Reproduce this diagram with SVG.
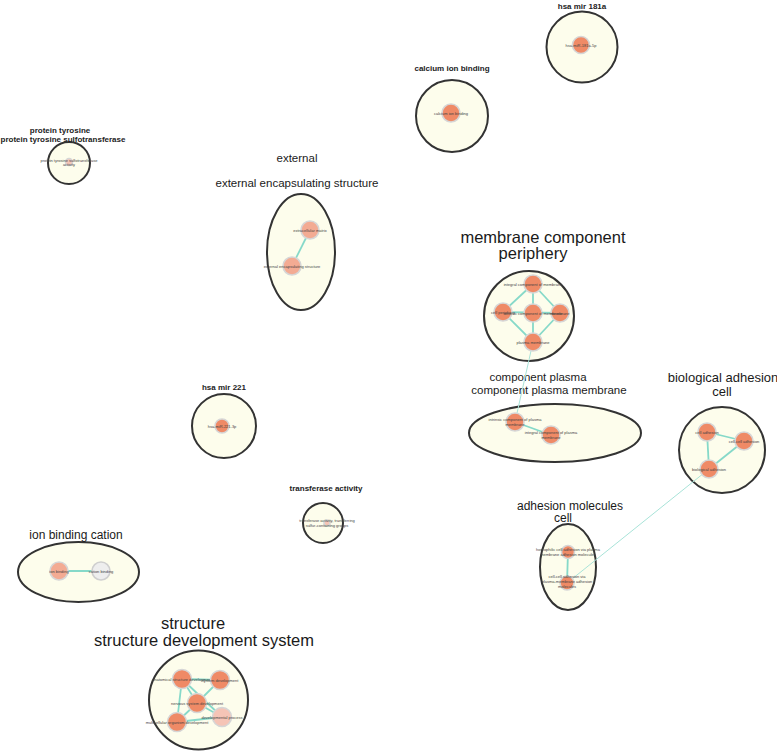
<svg xmlns="http://www.w3.org/2000/svg" width="777" height="752" viewBox="0 0 777 752">
<style>
.cl{fill:#fdfdec;stroke:#333;stroke-width:2}
.n{fill:#ef8a66;stroke:#d6d6d6;stroke-width:1.6}
.nl{fill:#f3ab93;stroke:#d6d6d6;stroke-width:1.6}
.np{fill:#f5c4b6;stroke:#d6d6d6;stroke-width:1.6}
.ng{fill:#eeeeee;stroke:#cfcfcf;stroke-width:1.6}
.e{stroke:#86d9c9;stroke-width:1.8;fill:none}
.et{stroke:#a8e3d8;stroke-width:1;fill:none}
.t{font-family:"Liberation Sans",Arial,sans-serif;fill:#1a1a1a;text-anchor:middle}
.tb{font-family:"Liberation Sans",Arial,sans-serif;fill:#222;text-anchor:middle;font-weight:bold;font-size:8px}
.lb{font-family:"Liberation Sans",Arial,sans-serif;fill:#444;text-anchor:middle;font-size:4px}
</style>
<rect width="777" height="752" fill="#fff"/>
<g id="clusters">
<g id="c-mir181a"><circle class="cl" cx="582" cy="47" r="35.5"/><text class="tb" x="582" y="9">hsa mir 181a</text></g>
<g id="c-calcium"><circle class="cl" cx="452" cy="116" r="36"/><text class="tb" x="452" y="71">calcium ion binding</text></g>
<g id="c-protein"><circle class="cl" cx="69" cy="163" r="21"/><text class="tb" x="60" y="133" font-size="7.4">protein tyrosine</text><text class="tb" x="63" y="142" font-size="7.1">protein tyrosine sulfotransferase</text></g>
<g id="c-external"><ellipse class="cl" cx="301" cy="252" rx="34" ry="58"/><text class="t" x="297" y="162" font-size="11.5">external</text><text class="t" x="297" y="187" font-size="11.5">external encapsulating structure</text></g>
<g id="c-membrane"><circle class="cl" cx="529" cy="316" r="45"/><text class="t" x="543" y="243" font-size="16.5">membrane component</text><text class="t" x="533" y="259" font-size="16.5">periphery</text></g>
<g id="c-plasma"><ellipse class="cl" cx="555" cy="433" rx="86" ry="29"/><text class="t" x="538" y="381" font-size="11.5">component plasma</text><text class="t" x="549" y="394" font-size="11.5">component plasma membrane</text></g>
<g id="c-bioadh"><circle class="cl" cx="722" cy="450" r="43"/><text class="t" x="723" y="382" font-size="13">biological adhesion</text><text class="t" x="722" y="396" font-size="13">cell</text></g>
<g id="c-mir221"><circle class="cl" cx="224" cy="426" r="32"/><text class="tb" x="224" y="390">hsa mir 221</text></g>
<g id="c-transferase"><circle class="cl" cx="323" cy="523" r="20"/><text class="tb" x="326" y="491">transferase activity</text></g>
<g id="c-ion"><ellipse class="cl" cx="78.5" cy="572" rx="60.5" ry="30"/><text class="t" x="76" y="539" font-size="12">ion binding cation</text></g>
<g id="c-adhmol"><ellipse class="cl" cx="568" cy="567" rx="28" ry="43"/><text class="t" x="570" y="510" font-size="12">adhesion molecules</text><text class="t" x="563" y="522" font-size="12">cell</text></g>
<g id="c-structure"><circle class="cl" cx="198.5" cy="700" r="49.5"/><text class="t" x="193" y="629" font-size="16.5">structure</text><text class="t" x="204" y="646" font-size="16.5">structure development system</text></g>
</g>
<g id="connectors">
<line class="e" x1="310" y1="230" x2="292" y2="266"/>
<line class="e" x1="533" y1="284" x2="503" y2="312"/>
<line class="e" x1="533" y1="284" x2="533" y2="313"/>
<line class="e" x1="533" y1="284" x2="560" y2="313"/>
<line class="e" x1="503" y1="312" x2="533" y2="342"/>
<line class="e" x1="560" y1="313" x2="533" y2="342"/>
<line class="e" x1="533" y1="313" x2="533" y2="342"/>
<line class="e" x1="503" y1="312" x2="560" y2="313"/>
<line class="et" x1="533" y1="342" x2="515" y2="422"/>
<line class="e" x1="515" y1="422" x2="551" y2="435" stroke-width="2.4"/>
<line class="e" x1="707" y1="432" x2="744" y2="441"/>
<line class="e" x1="707" y1="432" x2="709" y2="469"/>
<line class="e" x1="744" y1="441" x2="709" y2="469"/>
<line class="et" x1="709" y1="469" x2="567" y2="583"/>
<line class="e" x1="568" y1="552" x2="567" y2="583"/>
<line class="e" x1="59" y1="571" x2="101" y2="571" stroke-width="1.2"/>
<line class="e" x1="182" y1="679" x2="220" y2="680"/>
<line class="e" x1="182" y1="679" x2="197" y2="703"/>
<line class="e" x1="182" y1="679" x2="177" y2="722"/>
<line class="e" x1="182" y1="679" x2="222" y2="717"/>
<line class="e" x1="220" y1="680" x2="197" y2="703"/>
<line class="e" x1="197" y1="703" x2="177" y2="722"/>
<line class="e" x1="197" y1="703" x2="222" y2="717"/>
<line class="e" x1="177" y1="722" x2="222" y2="717"/>
</g>
<g id="nodes">
<g id="n-mir181a"><circle class="n" cx="581" cy="45" r="8.5"/><text class="lb" x="581" y="46.5">hsa-miR-181a-5p</text></g>
<g id="n-calcium"><circle class="n" cx="451" cy="113" r="9"/><text class="lb" x="451" y="114.5">calcium ion binding</text></g>
<g id="n-protein"><circle class="np" cx="69" cy="162" r="3.5" stroke-width="0.8"/><text class="lb" x="69" y="161.5">protein tyrosine sulfotransferase</text><text class="lb" x="69" y="166">activity</text></g>
<g id="n-ecm"><circle class="nl" cx="310" cy="230" r="9"/><text class="lb" x="310" y="231.5">extracellular matrix</text></g>
<g id="n-ees"><circle class="nl" cx="292" cy="266" r="9"/><text class="lb" x="292" y="267.5">external encapsulating structure</text></g>
<g id="n-icm"><circle class="n" cx="533" cy="284" r="9"/><text class="lb" x="533" y="285.5">integral component of membrane</text></g>
<g id="n-cp"><circle class="n" cx="503" cy="312" r="9"/><text class="lb" x="503" y="313.5">cell periphery</text></g>
<g id="n-mem"><circle class="n" cx="560" cy="313" r="9"/><text class="lb" x="560" y="314.5">membrane</text></g>
<g id="n-incm"><circle class="n" cx="533" cy="313" r="9"/><text class="lb" x="533" y="314.5">intrinsic component of membrane</text></g>
<g id="n-pm"><circle class="n" cx="533" cy="342" r="9"/><text class="lb" x="533" y="343.5">plasma membrane</text></g>
<g id="n-icpm"><circle class="n" cx="515" cy="422" r="9"/><text class="lb" x="515" y="421">intrinsic component of plasma</text><text class="lb" x="515" y="426">membrane</text></g>
<g id="n-gcpm"><circle class="n" cx="551" cy="435" r="9"/><text class="lb" x="551" y="434">integral component of plasma</text><text class="lb" x="551" y="439">membrane</text></g>
<g id="n-ca"><circle class="n" cx="707" cy="432" r="9"/><text class="lb" x="707" y="433.5">cell adhesion</text></g>
<g id="n-cca"><circle class="n" cx="744" cy="441" r="9"/><text class="lb" x="744" y="442.5">cell-cell adhesion</text></g>
<g id="n-ba"><circle class="n" cx="709" cy="469" r="9"/><text class="lb" x="709" y="470.5">biological adhesion</text></g>
<g id="n-mir221"><circle class="n" cx="222" cy="426" r="7"/><text class="lb" x="222" y="427.5">hsa-miR-221-3p</text></g>
<g id="n-transf"><circle class="np" cx="327" cy="523" r="3" stroke-width="0.8"/><text class="lb" x="327" y="521.5">transferase activity, transferring</text><text class="lb" x="327" y="527">sulfur-containing groups</text></g>
<g id="n-ionb"><circle class="nl" cx="59" cy="571" r="9"/><text class="lb" x="59" y="572.5">ion binding</text></g>
<g id="n-catb"><circle class="ng" cx="101" cy="571" r="9"/><text class="lb" x="101" y="572.5">cation binding</text></g>
<g id="n-homo"><circle class="n" cx="568" cy="552" r="6.5"/><text class="lb" x="568" y="551">homophilic cell adhesion via plasma</text><text class="lb" x="568" y="556">membrane adhesion molecules</text></g>
<g id="n-ccpm"><circle class="n" cx="567" cy="583" r="7"/><text class="lb" x="567" y="578">cell-cell adhesion via</text><text class="lb" x="567" y="583">plasma-membrane adhesion</text><text class="lb" x="567" y="588">molecules</text></g>
<g id="n-asd"><circle class="n" cx="182" cy="679" r="9.5"/><text class="lb" x="182" y="680.5">anatomical structure development</text></g>
<g id="n-sd"><circle class="n" cx="220" cy="680" r="9.5"/><text class="lb" x="220" y="681.5">system development</text></g>
<g id="n-nsd"><circle class="n" cx="197" cy="703" r="9.5"/><text class="lb" x="197" y="704.5">nervous system development</text></g>
<g id="n-mod"><circle class="n" cx="177" cy="722" r="9.5"/><text class="lb" x="177" y="723.5">multicellular organism development</text></g>
<g id="n-dp"><circle class="np" cx="222" cy="717" r="9.5"/><text class="lb" x="222" y="718.5">developmental process</text></g>
</g>
</svg>
